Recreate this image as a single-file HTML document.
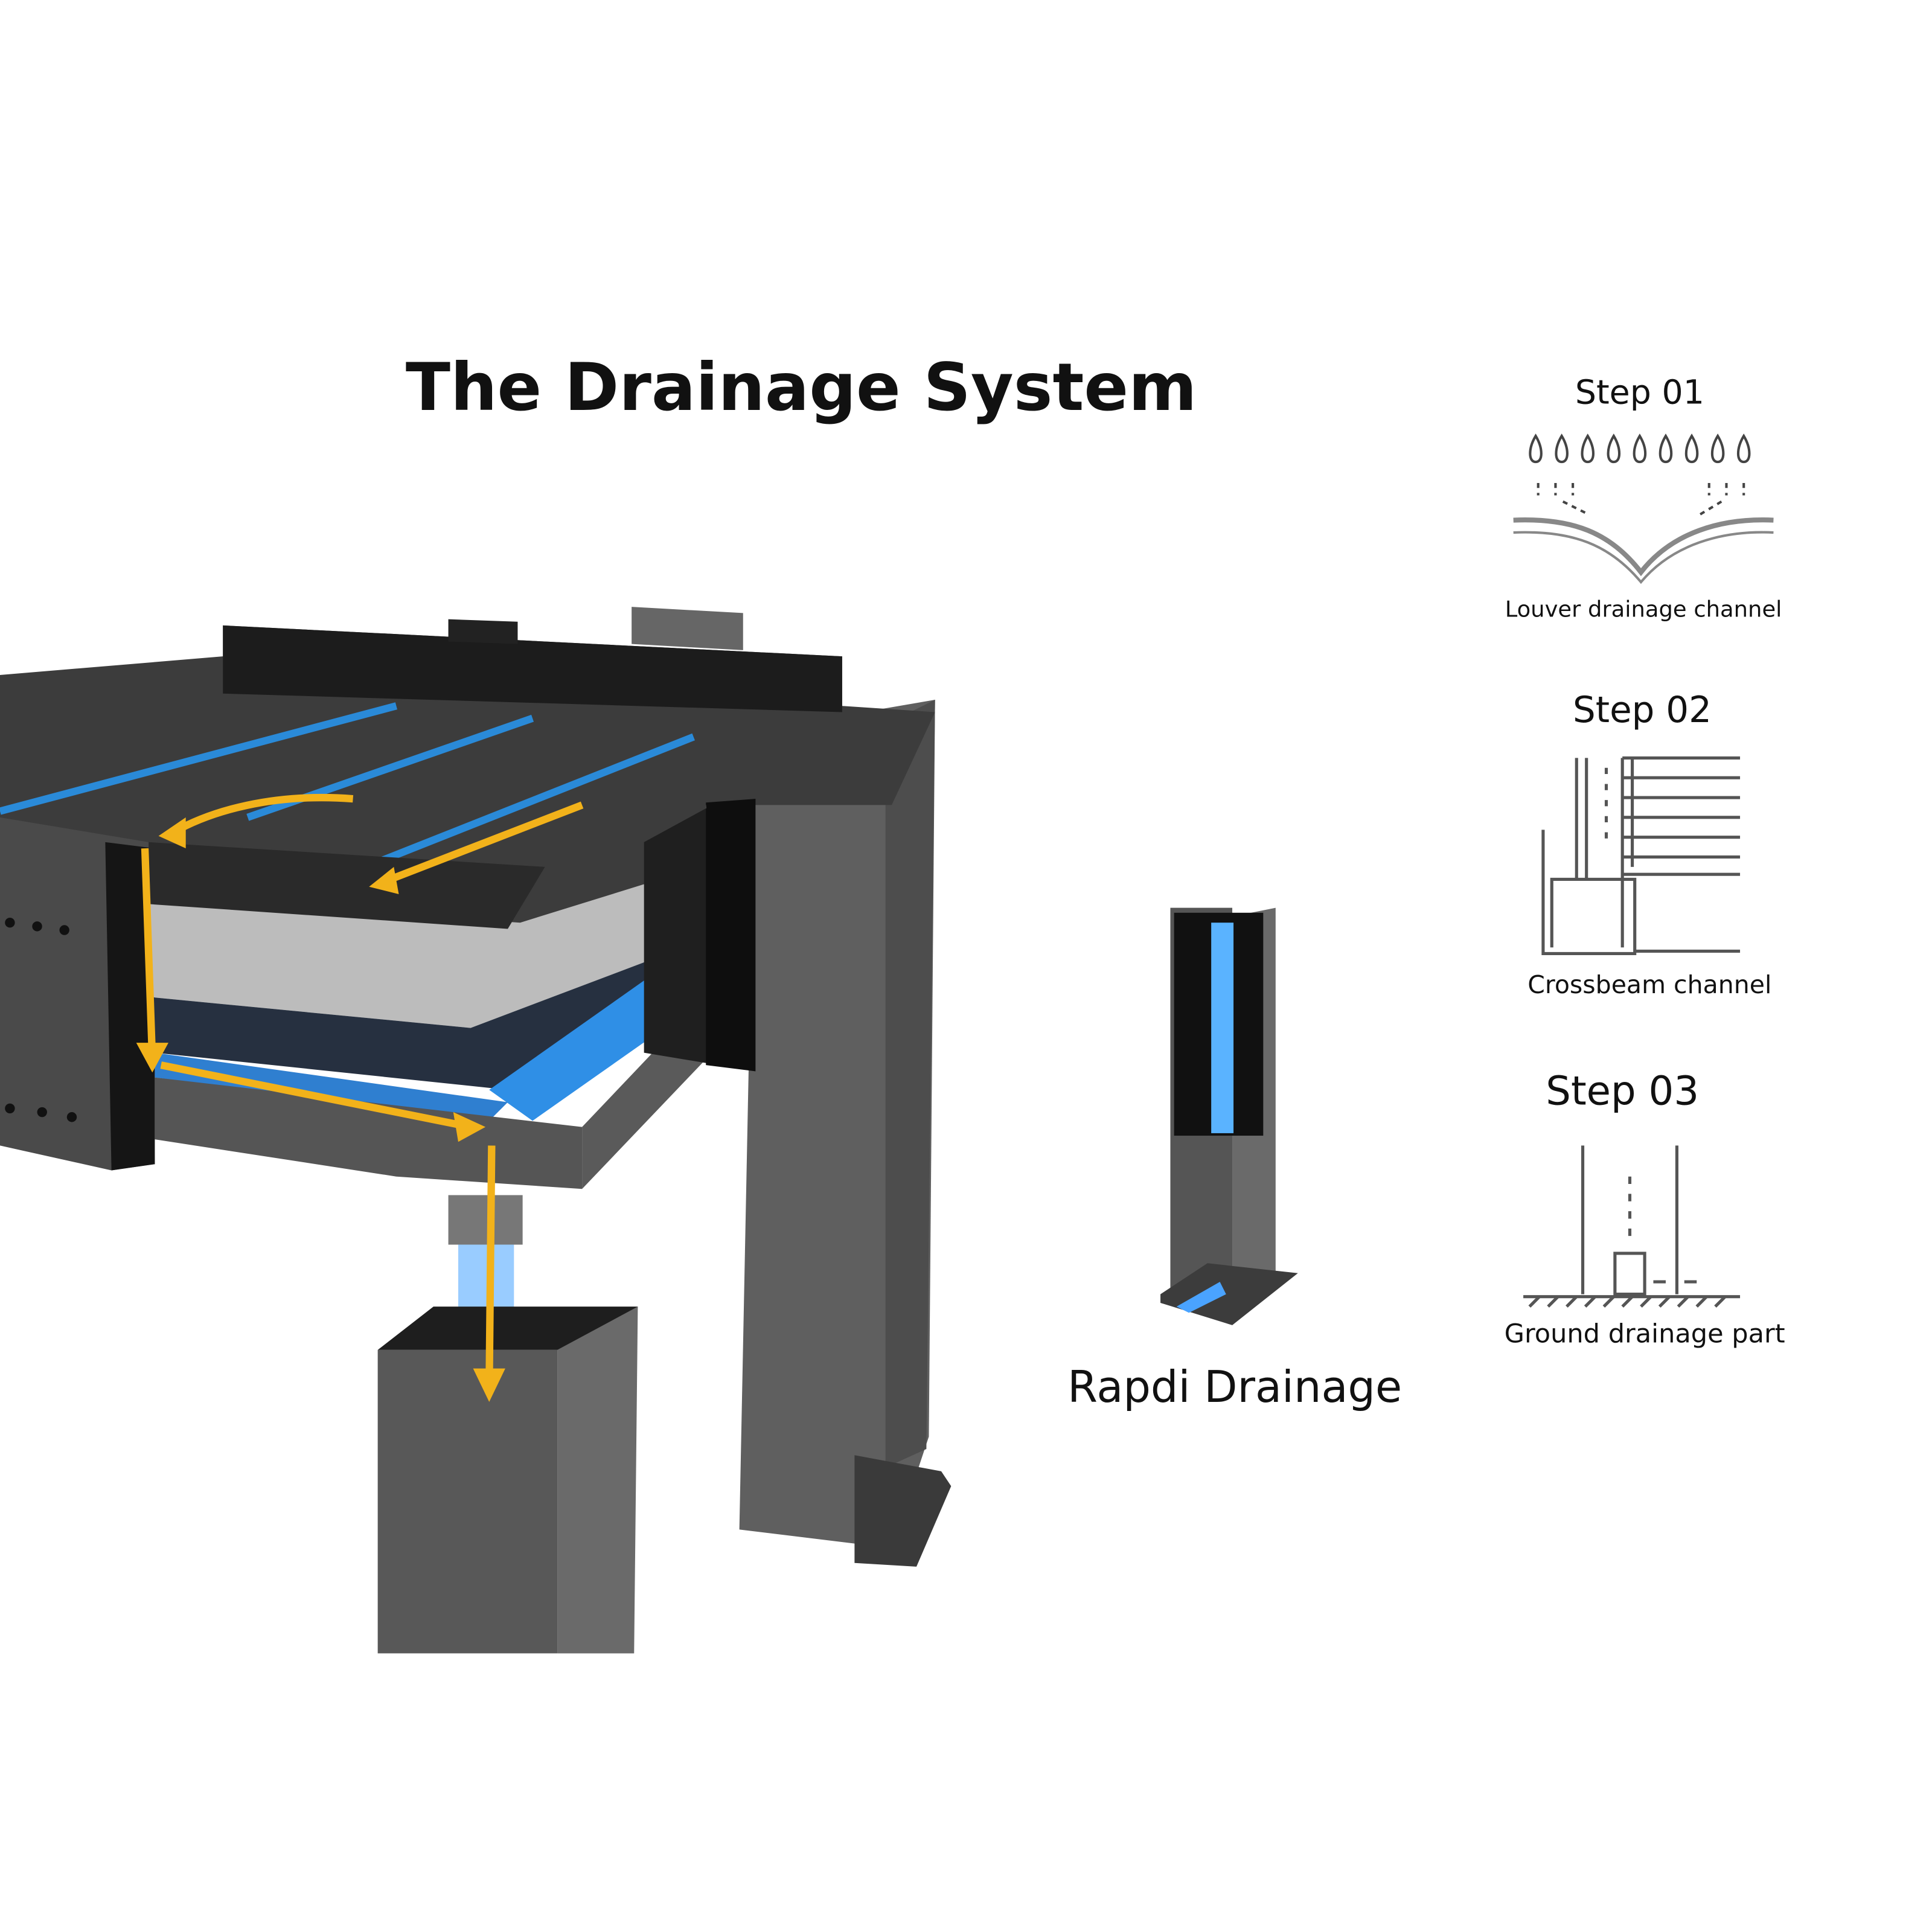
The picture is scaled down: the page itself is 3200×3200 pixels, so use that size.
<!DOCTYPE html>
<html><head><meta charset="utf-8"><style>
html,body{margin:0;padding:0;background:#fff;}
svg{display:block}
text{font-family:"DejaVu Sans","Liberation Sans",sans-serif;fill:#111}
</style></head><body>
<svg width="3200" height="3200" viewBox="0 0 1560 1560" xmlns="http://www.w3.org/2000/svg">
<rect width="1560" height="1560" fill="#fff"/>
<text x="647" y="331" font-size="53" font-weight="bold" text-anchor="middle">The Drainage System</text>

<!-- back right leg -->
<polygon points="610,590 755,565 750,1160 720,1250 597,1235" fill="#5f5f5f"/>
<polygon points="715,585 755,565 748,1170 715,1185" fill="#4d4d4d"/>
<polygon points="690,1175 760,1188 768,1200 740,1265 690,1262" fill="#3a3a3a"/>
<!-- top louvers -->
<polygon points="0,545 180,530 180,505 680,530 680,570 755,575 720,650 570,650 565,760 120,730 0,670" fill="#3c3c3c"/>
<polygon points="180,505 680,530 680,575 180,560" fill="#1c1c1c"/>
<polygon points="510,490 600,495 600,525 510,520" fill="#666"/>
<polygon points="362,500 418,502 418,520 362,518" fill="#222"/>
<g stroke="#2a8ad8" stroke-width="6">
<line x1="0" y1="655" x2="320" y2="570"/>
<line x1="200" y1="660" x2="430" y2="580"/>
<line x1="270" y1="710" x2="560" y2="595"/>
</g>
<!-- left box -->
<polygon points="0,660 120,680 125,940 90,945 0,925" fill="#4a4a4a"/>
<polygon points="85,680 125,685 125,940 90,945" fill="#151515"/>
<g fill="#111"><circle cx="8" cy="745" r="4"/><circle cx="30" cy="748" r="4"/><circle cx="52" cy="751" r="4"/><circle cx="8" cy="895" r="4"/><circle cx="34" cy="898" r="4"/><circle cx="58" cy="902" r="4"/></g>
<!-- inner frame -->
<polygon points="120,725 420,745 565,700 565,760 380,830 120,805" fill="#bcbcbc"/>
<polygon points="120,805 380,830 565,760 565,790 410,880 125,850" fill="#263040"/>
<polygon points="395,880 565,760 565,810 430,905" fill="#2f8fe6"/>
<polygon points="125,850 410,890 395,905 125,870" fill="#2f7fd0"/>
<polygon points="125,870 470,910 470,960 320,950 125,920" fill="#555"/>
<polygon points="470,910 565,810 575,850 470,960" fill="#5a5a5a"/>
<polygon points="120,680 440,700 410,750 120,730" fill="#2a2a2a"/>
<!-- right dark block -->
<polygon points="520,680 575,650 610,645 610,865 520,850" fill="#1f1f1f"/>
<polygon points="570,648 610,645 610,865 570,860" fill="#0e0e0e"/>
<!-- drain pipe -->
<rect x="362" y="965" width="60" height="40" fill="#777"/>
<rect x="370" y="1005" width="45" height="60" fill="#7fbfff" opacity=".8"/>
<!-- front post -->
<polygon points="305,1090 350,1055 515,1055 510,1090" fill="#1e1e1e"/>
<rect x="305" y="1090" width="145" height="245" fill="#585858"/>
<polygon points="450,1090 515,1055 512,1335 450,1335" fill="#6a6a6a"/>
<!-- yellow arrows -->
<g stroke="#f2b21a" stroke-width="6" fill="none">
<path d="M285,645 C220,640 170,655 140,672"/>
<path d="M470,650 L310,712"/>
<line x1="117" y1="685" x2="123" y2="855"/>
<line x1="130" y1="860" x2="380" y2="910"/>
<line x1="397" y1="925" x2="395" y2="1120"/>
</g>
<g fill="#f2b21a">
<polygon points="128,675 150,660 150,685"/>
<polygon points="298,716 318,700 322,722"/>
<polygon points="110,842 136,842 123,866"/>
<polygon points="392,910 366,898 370,922"/>
<polygon points="382,1105 408,1105 395,1132"/>
</g>

<!-- Rapdi small post -->
<rect x="945" y="733" width="50" height="310" fill="#555"/>
<polygon points="995,740 1030,733 1030,1040 995,1045" fill="#6a6a6a"/>
<rect x="948" y="737" width="72" height="180" fill="#111"/>
<rect x="978" y="745" width="18" height="170" fill="#5ab3ff"/>
<polygon points="937,1045 975,1020 1048,1028 995,1070 937,1052" fill="#3c3c3c"/>
<polygon points="950,1055 985,1035 990,1045 960,1060" fill="#4aa3ff"/>
<text x="997" y="1132" font-size="35" text-anchor="middle">Rapdi Drainage</text>

<!-- Step 01 -->
<text x="1324" y="326" font-size="27" text-anchor="middle">Step 01</text>
<g fill="none" stroke="#444" stroke-width="2">
<g id="d"><path d="M1240,352 C1234,362 1234,373 1240,373 C1246,373 1246,362 1240,352Z"/></g>
<use href="#d" x="21"/><use href="#d" x="42"/><use href="#d" x="63"/><use href="#d" x="84"/><use href="#d" x="105"/><use href="#d" x="126"/><use href="#d" x="147"/><use href="#d" x="168"/>
<path d="M1222,420 C1270,418 1300,430 1325,462 C1350,430 1390,418 1432,420" stroke-width="4" stroke="#888"/>
<path d="M1222,430 C1270,428 1300,440 1325,470 C1350,440 1390,428 1432,430" stroke-width="2" stroke="#888"/>
<path d="M1242,390 v10 M1256,390 v10 M1270,390 v10 M1380,390 v10 M1394,390 v10 M1408,390 v10 M1262,405 l20,10 M1390,405 l-20,12" stroke-dasharray="4 4"/>
</g>
<text x="1327" y="498" font-size="18" text-anchor="middle">Louver drainage channel</text>

<!-- Step 02 -->
<text x="1326" y="583" font-size="29" text-anchor="middle">Step 02</text>
<g fill="none" stroke="#555" stroke-width="2.5">
<path d="M1273,612 V710 M1281,612 V710 M1310,612 V765 M1318,612 V700"/>
<path d="M1310,612 H1405 M1310,628 H1405 M1310,644 H1405 M1310,660 H1405 M1310,676 H1405 M1310,692 H1405 M1310,706 H1405"/>
<path d="M1246,670 V770 H1320 V710 H1253 V765"/>
<path d="M1320,768 H1405"/>
<path d="M1297,620 v60" stroke-dasharray="5 8"/>
</g>
<text x="1332" y="802" font-size="20" text-anchor="middle">Crossbeam channel</text>

<!-- Step 03 -->
<text x="1310" y="892" font-size="32" text-anchor="middle">Step 03</text>
<g fill="none" stroke="#555" stroke-width="2.5">
<path d="M1278,925 V1045 M1354,925 V1045"/>
<path d="M1316,950 V1005" stroke-dasharray="6 8"/>
<rect x="1304" y="1012" width="24" height="33"/>
<path d="M1230,1047 H1405"/>
<path d="M1235,1055 l8,-8 M1250,1055 l8,-8 M1265,1055 l8,-8 M1280,1055 l8,-8 M1295,1055 l8,-8 M1310,1055 l8,-8 M1325,1055 l8,-8 M1340,1055 l8,-8 M1355,1055 l8,-8 M1370,1055 l8,-8 M1385,1055 l8,-8"/>
<path d="M1335,1035 h10 M1360,1035 h10"/>
</g>
<text x="1328" y="1084" font-size="21" text-anchor="middle">Ground drainage part</text>
</svg>
</body></html>
